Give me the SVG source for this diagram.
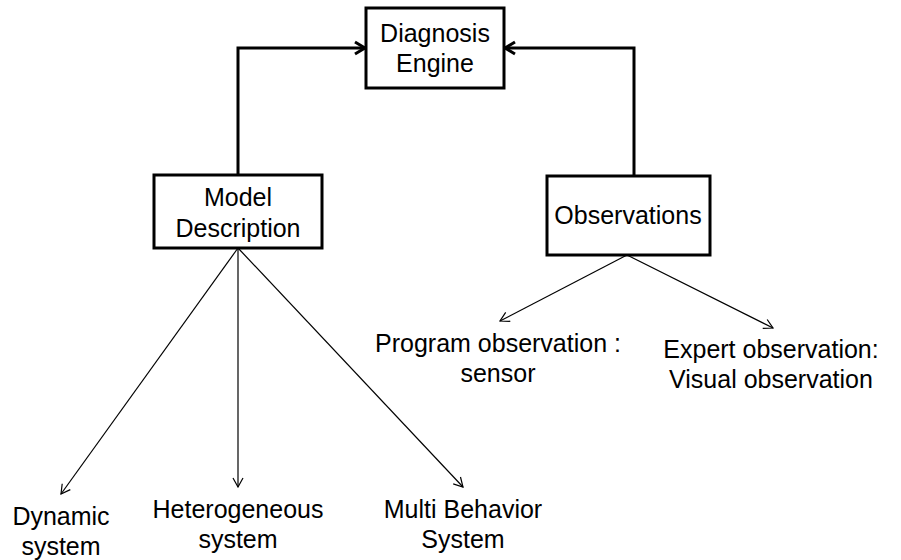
<svg xmlns="http://www.w3.org/2000/svg" width="901" height="560" viewBox="0 0 901 560">
  <style>
    .box { fill: #ffffff; stroke: #000000; stroke-width: 3; }
    .label { font-family: "Liberation Sans", Arial, sans-serif; font-size: 25px; fill: #000000; text-anchor: middle; }
    .thick { fill: none; stroke: #000000; stroke-width: 3; }
    .thin { fill: none; stroke: #000000; stroke-width: 1.2; }
  </style>
  <defs>
    <marker id="headThick" markerUnits="userSpaceOnUse" viewBox="-12 -8 14 16" refX="0" refY="0" markerWidth="14" markerHeight="16" orient="auto">
      <path d="M-10,-6 L0,0 L-10,6" fill="none" stroke="#000000" stroke-width="3"/>
    </marker>
    <marker id="headThin" markerUnits="userSpaceOnUse" viewBox="-11 -7 12 14" refX="0" refY="0" markerWidth="12" markerHeight="14" orient="auto">
      <path d="M-9,-5 L0,0 L-9,5" fill="none" stroke="#000000" stroke-width="1.2"/>
    </marker>
  </defs>
  <rect width="901" height="560" fill="#ffffff"/>

  <g id="connectors">
    <polyline class="thick" points="238,175 238,48 365,48" marker-end="url(#headThick)"/>
    <polyline class="thick" points="634,176 634,48 505,48" marker-end="url(#headThick)"/>
    <line class="thin" x1="238" y1="248" x2="61" y2="494" marker-end="url(#headThin)"/>
    <line class="thin" x1="238" y1="248" x2="238" y2="487" marker-end="url(#headThin)"/>
    <line class="thin" x1="238" y1="248" x2="463" y2="487" marker-end="url(#headThin)"/>
    <line class="thin" x1="627" y1="255" x2="500" y2="321" marker-end="url(#headThin)"/>
    <line class="thin" x1="627" y1="255" x2="773" y2="328" marker-end="url(#headThin)"/>
  </g>

  <g id="diagnosis-engine">
    <rect class="box" x="366" y="8" width="138" height="80"/>
    <text class="label" x="435" y="42">Diagnosis</text>
    <text class="label" x="435" y="72">Engine</text>
  </g>

  <g id="model-description">
    <rect class="box" x="154" y="175" width="168" height="73"/>
    <text class="label" x="238" y="206">Model</text>
    <text class="label" x="238" y="237">Description</text>
  </g>

  <g id="observations">
    <rect class="box" x="547" y="176" width="163" height="79"/>
    <text class="label" x="628" y="224">Observations</text>
  </g>

  <g id="dynamic-system">
    <text class="label" x="61" y="525">Dynamic</text>
    <text class="label" x="61" y="555">system</text>
  </g>

  <g id="heterogeneous-system">
    <text class="label" x="238" y="518">Heterogeneous</text>
    <text class="label" x="238" y="548">system</text>
  </g>

  <g id="multi-behavior-system">
    <text class="label" x="463" y="518">Multi Behavior</text>
    <text class="label" x="463" y="548">System</text>
  </g>

  <g id="program-observation">
    <text class="label" x="498" y="352">Program observation :</text>
    <text class="label" x="498" y="382">sensor</text>
  </g>

  <g id="expert-observation">
    <text class="label" x="771" y="358">Expert observation:</text>
    <text class="label" x="771" y="388">Visual observation</text>
  </g>
</svg>
